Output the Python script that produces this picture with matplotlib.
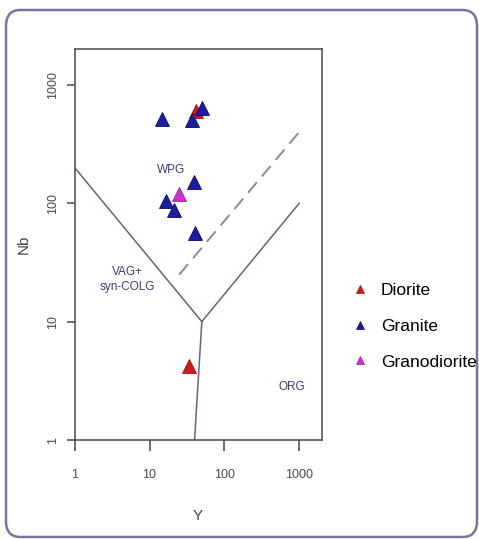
import matplotlib
matplotlib.use("Agg")
import matplotlib.pyplot as plt
from matplotlib.lines import Line2D
from matplotlib.patches import FancyBboxPatch

plt.rcParams['font.family'] = ['Liberation Sans', 'DejaVu Sans']

# ---- data ----
diorite_y = [41.7, 33.2]
diorite_nb = [606, 4.24]
granite_y = [14.9, 36.8, 51.0, 38.7, 16.5, 21.5, 40.8]
granite_nb = [515, 508, 638, 150, 105, 88, 56.5]
granodiorite_y = [24.4]
granodiorite_nb = [119]

# discrimination boundaries (Y, Nb)
vag_wpg_y = [1, 50]
vag_wpg_nb = [200, 10]
wpg_org_y = [50, 1000]
wpg_org_nb = [10, 100]
vag_org_y = [50, 40]
vag_org_nb = [10, 1]
dash_y = [25, 1000]
dash_nb = [25, 400]

field_labels = ["WPG", "VAG+\nsyn-COLG", "ORG"]
field_pos_y = [19.3, 5.0, 800]
field_pos_nb = [191, 22.7, 2.83]

xticks = [1, 10, 100, 1000]
yticks = [1, 10, 100, 1000]
series_names = ["Diorite", "Granite", "Granodiorite"]
colors = ["#cc1a1a", "#1c1ca0", "#cc33cc"]
edges = ["#a01010", "#0a0a6a", "#a020a0"]

W, H = 479, 539
fig = plt.figure(figsize=(W / 100, H / 100), dpi=100)
fig.patch.set_facecolor("white")

# outer rounded border
border = FancyBboxPatch((6 / W, 2 / H), (471 / W), (527 / H),
                        boxstyle="round,pad=0,rounding_size=0.03",
                        transform=fig.transFigure, facecolor="none",
                        edgecolor="#7676a0", linewidth=1.8, zorder=0)
fig.patches.append(border)

ax = fig.add_axes([74.7 / W, 1 - 440 / H, (321.7 - 74.7) / W, (440 - 49.3) / H])
ax.set_xscale("log")
ax.set_yscale("log")
ax.set_xlim(1, 2000)
ax.set_ylim(1, 2000)

line_col = "#7a5e5e"
ax.plot(vag_wpg_y, vag_wpg_nb, color=line_col, lw=1.1)
ax.plot(wpg_org_y, wpg_org_nb, color=line_col, lw=1.1)
ax.plot(vag_org_y, vag_org_nb, color=line_col, lw=1.1)
ax.plot(dash_y, dash_nb, color="#8a8a8a", lw=1.4, dashes=(7, 4))

for t, px, py in zip(field_labels, field_pos_y, field_pos_nb):
    ax.text(px, py, t, fontsize=8.5, color="#3c3c78", ha="center", va="center",
            linespacing=1.3)

ax.plot(diorite_y, diorite_nb, linestyle="none", marker="^", ms=10,
        color=colors[0], mec=edges[0], mew=0.6, zorder=3)
ax.plot(granite_y, granite_nb, linestyle="none", marker="^", ms=10,
        color=colors[1], mec=edges[1], mew=0.6, zorder=4)
ax.plot(granodiorite_y, granodiorite_nb, linestyle="none", marker="^", ms=10,
        color=colors[2], mec=edges[2], mew=0.6, zorder=5)

ax.set_xticks(xticks)
ax.set_xticklabels([str(v) for v in xticks])
ax.set_yticks(yticks)
ax.set_yticklabels([str(v) for v in yticks], rotation=90, va="center")
ax.minorticks_off()
ax.tick_params(axis="x", length=8, width=1.1, color="#444444", labelsize=9,
               labelcolor="#4a4a4a", pad=13)
ax.tick_params(axis="y", length=6, width=1.1, color="#444444", labelsize=9,
               labelcolor="#4a4a4a", pad=5)
for s in ax.spines.values():
    s.set_color("#555555")
    s.set_linewidth(1.2)

ax.set_xlabel("Y", fontsize=11, color="#444444", labelpad=20)
ax.set_ylabel("Nb", fontsize=11, color="#444444", labelpad=12)

handles = [Line2D([], [], linestyle="none", marker="^", ms=6, color=c, mec=e, mew=0.5)
           for c, e in zip(colors, edges)]
fig.legend(handles, series_names, loc="center left",
           bbox_to_anchor=(351.3 / W, 1 - 326 / H), frameon=False,
           fontsize=12.5, handlelength=1.0, handletextpad=0.69,
           labelspacing=1.2, borderpad=0, borderaxespad=0)

fig.savefig("out.png", dpi=100)
